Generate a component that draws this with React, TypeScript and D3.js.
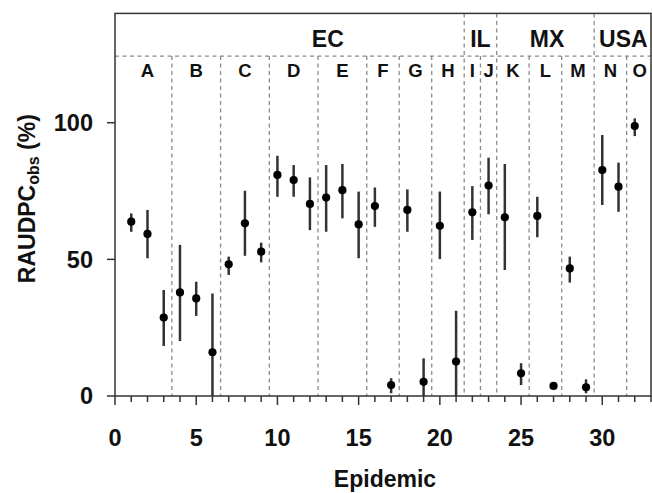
import React from "react";
import * as d3 from "d3";

const epidemics = [1,2,3,4,5,6,7,8,9,10,11,12,13,14,15,16,17,18,19,20,21,22,23,24,25,26,27,28,29,30,31,32];
const means = [63.8,59.3,28.7,37.9,35.7,16.0,48.2,63.2,52.8,80.9,79.0,70.3,72.6,75.3,62.8,69.5,4.0,68.1,5.2,62.3,12.6,67.2,77.0,65.4,8.3,65.9,3.7,46.7,3.2,82.7,76.6,98.8];
const lowers = [60.1,50.4,18.3,20.1,29.3,0,44.3,51.3,48.9,72.9,72.9,60.7,60.1,65.0,50.4,61.9,1.0,60.1,0,50.1,0,57.1,66.5,46.1,4.0,58.1,3.2,41.5,1.0,69.9,67.4,95.1];
const uppers = [66.8,68.1,38.8,55.3,41.8,37.5,51.0,75.1,56.1,87.9,84.5,80.0,84.5,84.9,74.8,76.3,6.5,75.6,13.8,74.8,31.2,76.8,87.2,84.9,12.0,72.9,4.2,51.0,6.1,95.5,85.4,101.6];

const groupLabels = ["A","B","C","D","E","F","G","H","I","J","K","L","M","N","O"];
const groupCenters = [2,5,8,11,14,16.5,18.5,20.5,22,23,24.5,26.5,28.5,30.5,32.3];
const groupBounds = [3.5,6.5,9.5,12.5,15.5,17.5,19.5,21.5,22.5,23.5,25.5,27.5,29.5,31.5];
const countryLabels = ["EC","IL","MX","USA"];
const countryCenters = [13.1,22.5,26.6,31.3];
const countryBounds = [21.5,23.5,29.5];

const xMajorTicks = [0,5,10,15,20,25,30];
const yTicks = [0,50,100];

const FONT = "'Liberation Sans', Arial, Helvetica, sans-serif";

export default function App() {
  const W = 652, H = 493;
  const x = d3.scaleLinear().domain([0, 33]).range([115, 651]);
  const y = d3.scaleLinear().domain([0, 140]).range([396, 13.4]);
  const sepY = y(124.4);
  const minorTicks = d3.range(0, 34).filter((v) => v % 5 !== 0);
  const axisColor = "#333";
  const dashColor = "#8a8a8a";

  return (
    <div style={{ position: "fixed", left: 0, top: 0 }}>
      <svg width={W} height={H} style={{ display: "block", background: "#fff" }} fontFamily={FONT}>
        <line x1={x(0)} x2={x(33)} y1={sepY} y2={sepY} stroke={dashColor} strokeWidth={1.3} strokeDasharray="4,3.5" />
        {groupBounds.map((b) => (
          <line key={"g" + b} x1={x(b)} x2={x(b)}
            y1={countryBounds.includes(b) ? y(140) : sepY} y2={y(0)}
            stroke={dashColor} strokeWidth={1.3} strokeDasharray="4,3.5" />
        ))}
        <rect x={x(0)} y={y(140)} width={x(33) - x(0)} height={y(0) - y(140)} fill="none" stroke={axisColor} strokeWidth={1.5} />
        {yTicks.map((t) => (
          <g key={"y" + t}>
            <line x1={x(0) - 8} x2={x(0)} y1={y(t)} y2={y(t)} stroke={axisColor} strokeWidth={1.5} />
            <text x={93} y={y(t)} dy="0.36em" textAnchor="end" fontSize={23.5} fontWeight="bold" fill="#111">{t}</text>
          </g>
        ))}
        {minorTicks.map((t) => (
          <line key={"xm" + t} x1={x(t)} x2={x(t)} y1={y(0)} y2={y(0) + 6} stroke={axisColor} strokeWidth={1.5} />
        ))}
        {xMajorTicks.map((t) => (
          <g key={"xM" + t}>
            <line x1={x(t)} x2={x(t)} y1={y(0)} y2={y(0) + 9} stroke={axisColor} strokeWidth={1.5} />
            <text x={x(t)} y={445.5} textAnchor="middle" fontSize={23.5} fontWeight="bold" fill="#111">{t}</text>
          </g>
        ))}
        <text x={(x(0) + x(33)) / 2 + 2} y={487} textAnchor="middle" fontSize={23} fontWeight="bold" fill="#111">Epidemic</text>
        <text transform={`translate(35, ${(y(0) + y(140)) / 2 - 6}) rotate(-90)`} textAnchor="middle" fontSize={23} fontWeight="bold" fill="#111">
          RAUDPC<tspan fontSize={16} dy={4}>obs</tspan><tspan dy={-4}> (%)</tspan>
        </text>
        {countryLabels.map((l, i) => (
          <text key={l} x={x(countryCenters[i])} y={47} textAnchor="middle" fontSize={23} fontWeight="bold" fill="#111">{l}</text>
        ))}
        {groupLabels.map((l, i) => (
          <text key={l} x={x(groupCenters[i])} y={77} textAnchor="middle" fontSize={18.5} fontWeight="bold" fill="#111">{l}</text>
        ))}
        {epidemics.map((e, i) => (
          <g key={"d" + e}>
            <line x1={x(e)} x2={x(e)} y1={y(Math.max(0, lowers[i]))} y2={y(uppers[i])} stroke="#333" strokeWidth={2.5} />
            <circle cx={x(e)} cy={y(means[i])} r={4.1} fill="#000" />
          </g>
        ))}
      </svg>
    </div>
  );
}
